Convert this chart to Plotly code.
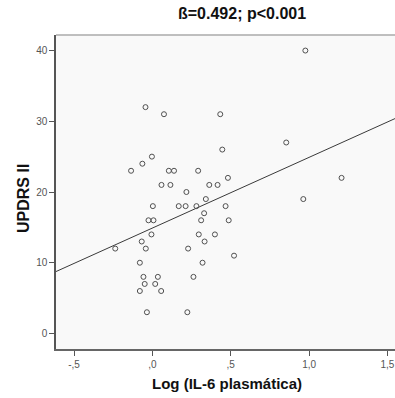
import plotly.graph_objects as go

# Data
log_il6 = [-0.044, 0.074, 0.433, 0.446, 0.976, 0.854, -0.003, -0.064, -0.136, 0.105,
           0.138, 0.292, 0.058, 0.115, 0.363, 0.416, 0.482, 1.207, 0.217, 0.341,
           0.963, 0.003, 0.168, 0.212, 0.281, 0.467, 0.330, -0.025, 0.007, 0.311,
           0.487, -0.006, 0.296, 0.399, -0.068, 0.333, -0.237, -0.042, 0.228, 0.521,
           -0.080, 0.320, -0.057, 0.035, 0.262, -0.049, 0.018, -0.080, 0.056, -0.035,
           0.223]
updrs2 = [32, 31, 31, 26, 40, 27, 25, 24, 23, 23,
          23, 23, 21, 21, 21, 21, 22, 22, 20, 19,
          19, 18, 18, 18, 18, 18, 17, 16, 16, 16,
          16, 14, 14, 14, 13, 13, 12, 12, 12, 11,
          10, 10, 8, 8, 8, 7, 7, 6, 6, 3,
          3]

fit_intercept = 14.9
fit_slope = 10.0

x_tickvals = [-0.5, 0.0, 0.5, 1.0, 1.5]
x_ticktext = ["-,5", ",0", ",5", "1,0", "1,5"]
y_tickvals = [0, 10, 20, 30, 40]
y_ticktext = ["0", "10", "20", "30", "40"]

title_text = "ß=0.492; p<0.001"
x_title = "Log (IL-6 plasmática)"
y_title = "UPDRS II"

X_RANGE = [-0.615, 1.548]
Y_RANGE = [-2.2, 42.2]

W, H = 395, 398
ML, MR, MT, MB = 56, 0, 35, 49

fig = go.Figure()

line_x = list(X_RANGE)
line_y = [fit_intercept + fit_slope * v for v in line_x]
fig.add_trace(go.Scatter(x=line_x, y=line_y, mode="lines",
                         line=dict(color="#3a3a3a", width=1), hoverinfo="skip",
                         showlegend=False))

fig.add_trace(go.Scatter(x=log_il6, y=updrs2, mode="markers",
                         marker=dict(symbol="circle-open", size=5, color="#505050",
                                     line=dict(width=1, color="#505050")),
                         showlegend=False))

axis_font = dict(family="Liberation Sans, Arial, sans-serif", size=10, color="#555555")

fig.update_layout(
    width=W, height=H,
    margin=dict(l=ML, r=MR, t=MT, b=MB, pad=0),
    paper_bgcolor="white",
    plot_bgcolor="#f9f9f9",
    font=dict(family="Liberation Sans, Arial, sans-serif"),
    xaxis=dict(range=X_RANGE, tickvals=x_tickvals, ticktext=x_ticktext,
               ticks="outside", ticklen=5, tickcolor="#555555", tickwidth=1,
               showline=True, linecolor="#666666", linewidth=1.5,
               showgrid=False, zeroline=False, tickfont=axis_font),
    yaxis=dict(range=Y_RANGE, tickvals=y_tickvals, ticktext=y_ticktext,
               ticks="outside", ticklen=5, tickcolor="#555555", tickwidth=1,
               showline=True, linecolor="#555555", linewidth=1.5,
               showgrid=False, zeroline=False, tickfont=axis_font),
    shapes=[dict(type="line", xref="paper", yref="paper", x0=0, x1=1, y0=1, y1=1,
                 line=dict(color="#aaaaaa", width=1.5))],
    annotations=[
        dict(text="<b>" + title_text + "</b>", xref="paper", yref="paper",
             x=(242 - ML) / (W - ML - MR), y=1 + (MT - 13) / (H - MT - MB),
             xanchor="center", yanchor="middle", showarrow=False,
             font=dict(size=16, color="#111111", family="Liberation Sans, Arial, sans-serif")),
        dict(text="<b>" + x_title + "</b>", xref="paper", yref="paper",
             x=(227 - ML) / (W - ML - MR), y=-(383 - (H - MB)) / (H - MT - MB),
             xanchor="center", yanchor="middle", showarrow=False,
             font=dict(size=15, color="#111111", family="Liberation Sans, Arial, sans-serif")),
        dict(text="<b>" + y_title + "</b>", xref="paper", yref="paper",
             x=-(ML - 23) / (W - ML - MR), y=(H - MB - 199) / (H - MT - MB),
             xanchor="center", yanchor="middle", showarrow=False, textangle=-90,
             font=dict(size=16, color="#111111", family="Liberation Sans, Arial, sans-serif")),
    ],
)

fig.write_html("out.html",
               config={"displayModeBar": False},
               post_script="document.body.style.margin='0px';document.body.style.overflow='hidden';")
